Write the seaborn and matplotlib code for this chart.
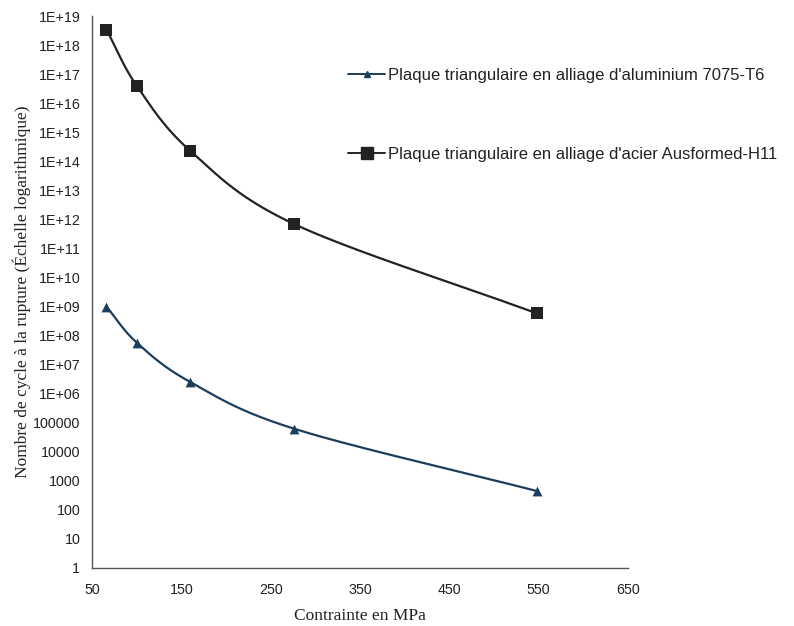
import numpy as np
import pandas as pd
import matplotlib
matplotlib.use("Agg")
import matplotlib.pyplot as plt
import matplotlib.ticker as mticker
import seaborn as sns

# Fatigue data: stress (MPa) vs. number of cycles to failure
stress_al = [66, 100, 160, 276, 548]
cycles_al = [1.0e9, 5.7e7, 2.5e6, 6.2e4, 440]

stress_steel = [66, 100, 160, 276, 548]
cycles_steel = [3.5e18, 4.0e16, 2.3e14, 7.0e11, 5.8e8]

label_al = "Plaque triangulaire en alliage d'aluminium 7075-T6"
label_steel = "Plaque triangulaire en alliage d'acier Ausformed-H11"

x_ticks = [50, 150, 250, 350, 450, 550, 650]
y_ticks = [10.0 ** k for k in range(0, 20)]

color_al = "#1d3d5c"
color_steel = "#222222"


def smooth_curve(x, y, n=40):
    """Catmull-Rom style smoothing through the points (x linear, y in log10)."""
    x = np.asarray(x, float)
    ly = np.log10(np.asarray(y, float))
    px = np.concatenate([[2 * x[0] - x[1]], x, [2 * x[-1] - x[-2]]])
    py = np.concatenate([[2 * ly[0] - ly[1]], ly, [2 * ly[-1] - ly[-2]]])
    xs, ys = [], []
    for i in range(1, len(px) - 2):
        p0, p1, p2, p3 = (np.array([px[j], py[j]]) for j in range(i - 1, i + 3))
        c1 = p1 + (p2 - p0) / 6.0
        c2 = p2 - (p3 - p1) / 6.0
        t = np.linspace(0, 1, n)[:, None]
        b = ((1 - t) ** 3) * p1 + 3 * ((1 - t) ** 2) * t * c1 + 3 * (1 - t) * t ** 2 * c2 + t ** 3 * p2
        xs.append(b[:, 0])
        ys.append(b[:, 1])
    return np.concatenate(xs), 10 ** np.concatenate(ys)


sns.set_style("white")
plt.rcParams["font.family"] = ["Liberation Sans", "DejaVu Sans"]

fig = plt.figure(figsize=(7.94, 6.26), dpi=100)
ax = fig.add_axes([0.116, 0.093, 0.675, 0.881])
ax.set_yscale("log")

for xs_, ys_, col, mk, ms, lab in [
    (stress_al, cycles_al, color_al, "^", 50, label_al),
    (stress_steel, cycles_steel, color_steel, "s", 85, label_steel),
]:
    sx, sy = smooth_curve(xs_, ys_)
    sns.lineplot(x=sx, y=sy, ax=ax, color=col, linewidth=1.6, sort=False,
                 estimator=None, legend=False)
    sns.scatterplot(x=xs_, y=ys_, ax=ax, color=col, marker=mk, s=ms,
                    linewidth=0, legend=False, zorder=3)

ax.set_xlim(50, 650)
ax.set_ylim(1, 1e19)
ax.set_xticks(x_ticks)
ax.set_yticks(y_ticks)
ax.yaxis.set_minor_locator(mticker.NullLocator())


def fmt_y(v, pos):
    k = int(round(np.log10(v)))
    if k >= 6:
        return "1E+%02d" % k
    return "%d" % round(v)


ax.yaxis.set_major_formatter(mticker.FuncFormatter(fmt_y))
ax.xaxis.set_major_formatter(mticker.FuncFormatter(lambda v, p: "%d" % v))

for side in ("top", "right"):
    ax.spines[side].set_visible(False)
for side in ("left", "bottom"):
    ax.spines[side].set_color("#555555")
    ax.spines[side].set_linewidth(1.0)

ax.tick_params(axis="both", which="major", direction="out", length=3,
               width=0.9, color="#555555", labelsize=10.3, labelcolor="#222222")
ax.tick_params(axis="y", pad=5.5)
ax.tick_params(axis="x", pad=8)

ax.set_xlabel("Contrainte en MPa", family=["Liberation Serif"], fontsize=12.5,
              color="#222222", labelpad=8)
ax.set_ylabel("Nombre de cycle à la rupture (Échelle logarithmique)",
              family=["Liberation Serif"], fontsize=12.5, color="#222222", labelpad=1.5)

handles = [
    plt.Line2D([], [], color=color_al, marker="^", markersize=5, linewidth=1.4),
    plt.Line2D([], [], color=color_steel, marker="s", markersize=8, linewidth=1.4),
]
fig.legend(handles, [label_al, label_steel], loc="upper left",
           bbox_to_anchor=(0.42, 0.916), frameon=False, fontsize=12,
           handlelength=2.2, handletextpad=0.2, labelspacing=3.84,
           labelcolor="#222222")

fig.savefig("out.png", dpi=100)
